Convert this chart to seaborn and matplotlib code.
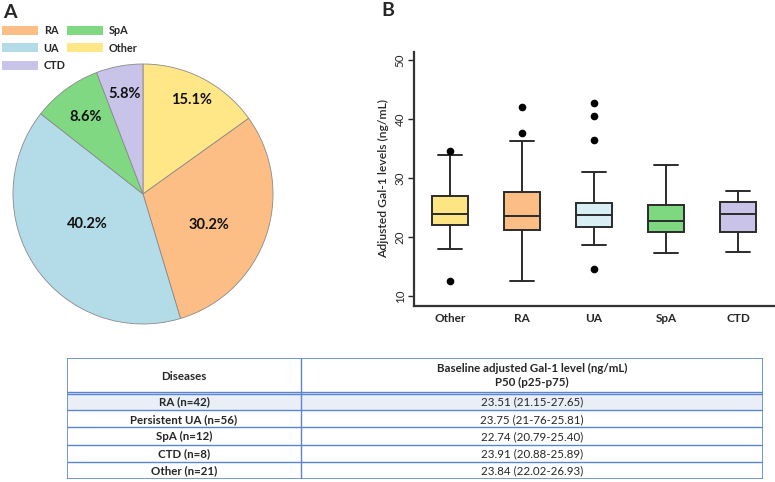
import numpy as np
import matplotlib
matplotlib.use("Agg")
import matplotlib.pyplot as plt
import seaborn as sns
from matplotlib.patches import Rectangle, Patch

sns.set_style("ticks")
plt.rcParams['font.family'] = ['Lato', 'DejaVu Sans']

# ---------------- data ----------------
pie_labels = ["Other", "RA", "UA", "SpA", "CTD"]
pie_pct = [15.1, 30.2, 40.2, 8.6, 5.8]
pie_colors = ["#FFE686", "#FDBE85", "#B4DCE8", "#80D882", "#C8C3E8"]
legend_order = ["RA", "UA", "CTD", "SpA", "Other"]

box_cats = ["Other", "RA", "UA", "SpA", "CTD"]
box_colors = ["#FDE584", "#FDBE85", "#D6EEF4", "#7ED87F", "#C9C3E8"]
whislo = [18.0, 12.5, 18.6, 17.3, 17.5]
q1 = [22.02, 21.15, 21.76, 20.79, 20.88]
med = [23.84, 23.51, 23.75, 22.74, 23.91]
q3 = [26.93, 27.65, 25.81, 25.40, 25.89]
whishi = [33.9, 36.3, 31.0, 32.3, 27.8]
fliers = [[34.6, 12.6], [42.1, 37.6], [42.8, 40.6, 36.4, 14.6], [], []]
yticks = [10, 20, 30, 40, 50]

tbl_header = ["Diseases", "Baseline adjusted Gal-1 level (ng/mL)\nP50 (p25-p75)"]
tbl_col1 = ["RA (n=42)", "Persistent UA (n=56)", "SpA (n=12)", "CTD (n=8)", "Other (n=21)"]
tbl_col2 = ["23.51 (21.15-27.65)", "23.75 (21-76-25.81)", "22.74 (20.79-25.40)",
            "23.91 (20.88-25.89)", "23.84 (22.02-26.93)"]

W, H = 775, 482
fig = plt.figure(figsize=(W / 100, H / 100), dpi=100)

def fx(px):
    return px / W

def fy(py):
    return 1 - py / H

# ---------------- Panel A: pie ----------------
cx, cy, r = 143, 194, 130
axp = fig.add_axes([fx(cx - r), fy(cy + r), 2 * r / W, 2 * r / H])
wedges, _ = axp.pie(pie_pct, colors=pie_colors, startangle=90, counterclock=False,
                    wedgeprops=dict(edgecolor="#8a8a8a", linewidth=0.6))
axp.set_xlim(-1, 1)
axp.set_ylim(-1, 1)
axp.set_aspect("equal")
axp.axis("off")
label_r = [0.81, 0.56, 0.49, 0.74, 0.78]
label_dang = [0, -6, -6, 0, 0]
for w, pct, lr, da in zip(wedges, pie_pct, label_r, label_dang):
    ang = np.deg2rad((w.theta1 + w.theta2) / 2 + da)
    axp.text(lr * np.cos(ang), lr * np.sin(ang), f"{pct:.1f}%", ha="center", va="center",
             fontsize=10.5, fontweight="bold", color="#111111")

handles = [Patch(facecolor=pie_colors[pie_labels.index(k)], edgecolor="none") for k in legend_order]
fig.legend(handles, legend_order, loc="upper left", bbox_to_anchor=(fx(2), fy(25)),
           ncol=2, frameon=False, handlelength=3.3, handleheight=0.87,
           handletextpad=0.55, columnspacing=0.15, labelspacing=0.6,
           borderpad=0, borderaxespad=0,
           prop=dict(weight="bold", size=7.8))

fig.text(fx(3), fy(12), "A", fontsize=14, fontweight="bold", va="center", ha="left")
fig.text(fx(381), fy(10), "B", fontsize=14, fontweight="bold", va="center", ha="left")

# ---------------- Panel B: boxplot ----------------
axb = fig.add_axes([fx(414), fy(306), 360 / W, 254 / H])
stats = []
for i, c in enumerate(box_cats):
    stats.append(dict(label=c, whislo=whislo[i], q1=q1[i], med=med[i], q3=q3[i],
                      whishi=whishi[i], fliers=fliers[i]))
lc = "#2b2b2b"
bp = axb.bxp(stats, positions=range(len(box_cats)), widths=0.49, capwidths=0.33,
             patch_artist=True,
             boxprops=dict(edgecolor=lc, linewidth=1.4),
             medianprops=dict(color=lc, linewidth=1.4),
             whiskerprops=dict(color=lc, linewidth=1.4),
             capprops=dict(color=lc, linewidth=1.4),
             flierprops=dict(marker="o", markerfacecolor="black", markeredgecolor="black",
                             markersize=4.5))
for patch, col in zip(bp["boxes"], box_colors):
    patch.set_facecolor(col)
axb.set_xlim(-0.5, 4.5)
axb.set_ylim(8.3, 51.4)
axb.set_yticks(yticks)
axb.set_yticklabels([str(t) for t in yticks], rotation=90, va="center", fontsize=8.3)
axb.set_xticks(range(len(box_cats)))
axb.set_xticklabels(box_cats, fontsize=8.5, fontweight="bold")
axb.tick_params(axis="x", length=0, pad=5)
axb.tick_params(axis="y", length=4, width=1, pad=2)
axb.set_ylabel("Adjusted Gal-1 levels (ng/mL)", fontsize=8.7, fontweight="semibold", labelpad=4)
sns.despine(ax=axb)
for s in ["left", "bottom"]:
    axb.spines[s].set_linewidth(1.6)
    axb.spines[s].set_color("#333333")
axb.set_facecolor("none")

# ---------------- Table ----------------
tx0, tx1, ty0, ty1 = 67, 763, 358, 479
axt = fig.add_axes([fx(tx0), fy(ty1), (tx1 - tx0) / W, (ty1 - ty0) / H])
axt.set_xlim(tx0, tx1)
axt.set_ylim(ty1, ty0)
axt.axis("off")
bc = "#5b86cf"
xdiv = 301
head_bottom = 393
row_h = (ty1 - head_bottom) / len(tbl_col1)
axt.add_patch(Rectangle((tx0, head_bottom), tx1 - tx0, row_h, facecolor="#E9EEF7", edgecolor="none"))
axt.add_patch(Rectangle((tx0, ty0), tx1 - tx0, ty1 - ty0, facecolor="none", edgecolor=bc, linewidth=1.2))
axt.plot([xdiv, xdiv], [ty0, ty1], color=bc, lw=1.0)
axt.plot([tx0, tx1], [head_bottom - 1.2, head_bottom - 1.2], color=bc, lw=1.0)
axt.plot([tx0, tx1], [head_bottom + 0.6, head_bottom + 0.6], color=bc, lw=1.0)
for i in range(1, len(tbl_col1)):
    yy = head_bottom + i * row_h
    axt.plot([tx0, tx1], [yy, yy], color=bc, lw=1.0)
c1 = (tx0 + xdiv) / 2
c2 = (xdiv + tx1) / 2
tfs = 8.3
axt.text(c1, (ty0 + head_bottom) / 2 + 1, tbl_header[0], ha="center", va="center",
         fontsize=tfs, fontweight="bold")
axt.text(c2, (ty0 + head_bottom) / 2, tbl_header[1], ha="center", va="center",
         fontsize=tfs, fontweight="bold", linespacing=1.25)
for i, (a, b) in enumerate(zip(tbl_col1, tbl_col2)):
    yc = head_bottom + (i + 0.5) * row_h + 0.5
    axt.text(c1, yc, a, ha="center", va="center", fontsize=tfs, fontweight="bold")
    axt.text(c2, yc, b, ha="center", va="center", fontsize=tfs)

fig.savefig("out.png", dpi=100)
